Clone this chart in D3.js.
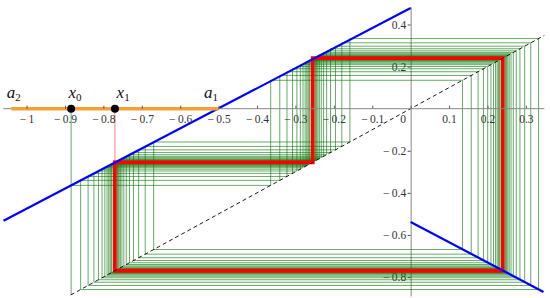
<!DOCTYPE html>
<html>
<head>
<meta charset="utf-8">
<script src="https://cdn.jsdelivr.net/npm/d3@7"></script>
<style>
  body { margin: 0; background: #fff; }
  svg { display: block; }
  .tick text { font-family: "Liberation Serif", "DejaVu Serif", serif; font-size: 11.5px; fill: #333; }
  .lbl { font-family: "Liberation Serif", serif; font-style: italic; fill: #111; }
</style>
</head>
<body>
<svg id="chart" width="550" height="298"></svg>
<script>
// tick labels
const xTicks = [-1, -0.9, -0.8, -0.7, -0.6, -0.5, -0.4, -0.3, -0.2, -0.1, 0, 0.1, 0.2, 0.3];
const yTicks = [0.4, 0.2, -0.2, -0.4, -0.6, -0.8];

// the two branches of the map (end points)
const leftBranch = [[-1.06, -0.532], [0, 0.478]];
const rightBranch = [[0, -0.538], [0.346, -0.871]];
const diagonal = [[-0.885, -0.885], [0.348, 0.348]];

// period-3 orbit (red) and the orbit from x0 (green)
const periodOrbit = [-0.77, -0.255, 0.24];
const greenOrbit = [
  -0.884, -0.3644, 0.1349, -0.6691, -0.1582, 0.3330, -0.8592, -0.3407, 0.1578,
  -0.6911, -0.1792, 0.3128, -0.8398, -0.3220, 0.1756, -0.7082, -0.1957, 0.2969,
  -0.8247, -0.3075, 0.1896, -0.7216, -0.2086, 0.2846, -0.8128, -0.2961, 0.2006,
  -0.7321, -0.2187, 0.2749, -0.8035, -0.2872, 0.2091, -0.7404, -0.2266, 0.2673,
  -0.7962, -0.2802, 0.2158, -0.7468, -0.2327, 0.2614, -0.7905, -0.2747, 0.2211,
  -0.7518, -0.2376, 0.2567, -0.7861, -0.2704, 0.2252, -0.7558, -0.2413, 0.2531,
  -0.7826, -0.2671, 0.2284, -0.7589, -0.2443, 0.2503, -0.7798, -0.2644, 0.2309,
  -0.7613, -0.2466, 0.2480, -0.7777, -0.2624, 0.2329, -0.7632, -0.2485, 0.2463,
  -0.7760
];

// interval [a2, a1] and marked points on the x-axis
const interval = [-1.04, -0.5];
const markNames = ['a', 'x', 'x', 'a'];
const markSubs = ['2', '0', '1', '1'];
const markValues = [-1.04, -0.884, -0.77, -0.5];
const dotValues = [-0.884, -0.77];

const svg = d3.select('#chart');

const x = d3.scaleLinear([-1.0606, 0.348], [3.3, 544.3]);
const y = d3.scaleLinear([-0.89, 0.485], [296, 6.6]);

const minus = function(v) {
  if (v === 0) return '0';
  return (v < 0 ? '\u2212\u2009' : '') + d3.format('~g')(Math.abs(v));
};

// axes
const xAxis = svg.append('g')
    .attr('transform', `translate(0,${y(0)})`)
    .call(d3.axisBottom(x)
              .tickValues(xTicks)
              .tickFormat(minus)
              .tickSizeInner(-3)
              .tickSizeOuter(0)
              .tickPadding(6));
xAxis.selectAll('.tick text').filter(d => d === 0).attr('dx', -8);

const yAxis = svg.append('g')
    .attr('transform', `translate(${x(0)},0)`)
    .call(d3.axisLeft(y)
              .tickValues(yTicks)
              .tickFormat(minus)
              .tickSizeInner(3)
              .tickSizeOuter(0)
              .tickPadding(1.5));

svg.selectAll('.domain').attr('stroke', '#888');
svg.selectAll('.tick line').attr('stroke', '#555');

const seg = function(g, a, b) {
  return g.append('line')
      .attr('x1', x(a[0])).attr('y1', y(a[1]))
      .attr('x2', x(b[0])).attr('y2', y(b[1]));
};

// green cobweb
const green = svg.append('g')
    .attr('stroke', '#0a780a')
    .attr('stroke-opacity', 0.62)
    .attr('stroke-width', 1);
seg(green, [greenOrbit[0], 0], [greenOrbit[0], greenOrbit[1]]);
for (let i = 0; i < greenOrbit.length - 1; i++) {
  const a = greenOrbit[i], b = greenOrbit[i + 1];
  seg(green, [a, a], [a, b]);
  seg(green, [a, b], [b, b]);
}

// red periodic orbit
const red = svg.append('g').attr('stroke', 'red').attr('fill', 'none');
seg(red, [periodOrbit[0], 0], [periodOrbit[0], periodOrbit[1]])
    .attr('stroke-opacity', 0.5)
    .attr('stroke-width', 1);
const cyc = [];
periodOrbit.forEach(function(a, i) {
  const b = periodOrbit[(i + 1) % periodOrbit.length];
  cyc.push([a, a], [a, b]);
});
red.append('path')
    .attr('d', d3.line(d => x(d[0]), d => y(d[1]))(cyc) + 'Z')
    .attr('stroke-width', 3.8);

// diagonal y = x
svg.append('path')
    .attr('d', d3.line(d => x(d[0]), d => y(d[1]))(diagonal))
    .attr('stroke', '#000')
    .attr('stroke-width', 0.9)
    .attr('stroke-dasharray', '4,3')
    .attr('fill', 'none');

// map
[leftBranch, rightBranch].forEach(function(br) {
  svg.append('path')
      .attr('d', d3.line(d => x(d[0]), d => y(d[1]))(br))
      .attr('stroke', '#0000ff')
      .attr('stroke-width', 2.2)
      .attr('fill', 'none');
});

// orange interval
svg.append('line')
    .attr('x1', x(interval[0])).attr('x2', x(interval[1]))
    .attr('y1', y(0)).attr('y2', y(0))
    .attr('stroke', '#f5a033')
    .attr('stroke-width', 3.5);
xAxis.raise();
xAxis.select('.domain').remove();
svg.append('line')
    .attr('x1', x(interval[1])).attr('x2', x.range()[1])
    .attr('y1', y(0)).attr('y2', y(0))
    .attr('stroke', '#888');
svg.append('line')
    .attr('x1', x.range()[0]).attr('x2', x(interval[0]))
    .attr('y1', y(0)).attr('y2', y(0))
    .attr('stroke', '#888');

svg.append('g')
    .selectAll('circle')
    .data(dotValues)
    .enter()
    .append('circle')
    .attr('cx', d => x(d))
    .attr('cy', y(0))
    .attr('r', 4)
    .attr('fill', '#000');

// labels a2, x0, x1, a1
const labelDx = [-4.4, -2.7, 1.7, -14.6];
markValues.forEach(function(v, i) {
  const t = svg.append('text')
      .attr('class', 'lbl')
      .attr('x', x(v) + labelDx[i])
      .attr('y', y(0) - 10.5)
      .attr('font-size', 17)
      .text(markNames[i]);
  t.append('tspan')
      .attr('font-size', 11)
      .attr('font-style', 'normal')
      .attr('dy', 3)
      .text(markSubs[i]);
});
</script>
</body>
</html>
